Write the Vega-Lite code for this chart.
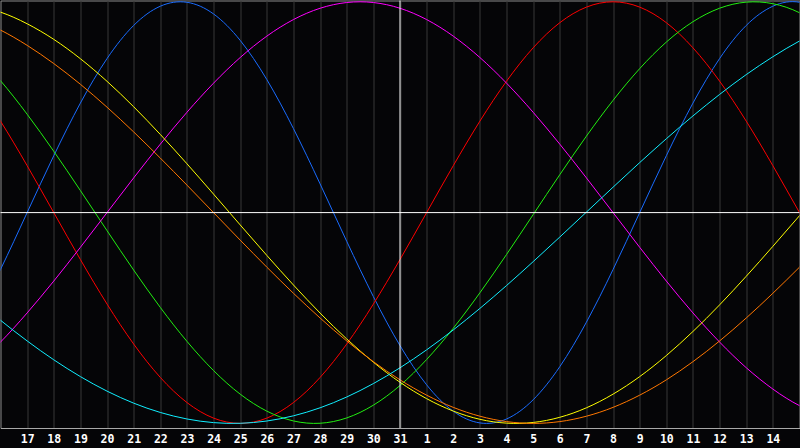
{
  "$schema": "https://vega.github.io/schema/vega-lite/v6.json",
  "width": 799,
  "height": 427.5,
  "autosize": "none",
  "padding": {"left": 0.5, "top": 0.5, "right": 0.5, "bottom": 20},
  "background": "#050507",
  "config": {
    "view": {"stroke": "#8c8c8c", "strokeWidth": 1},
    "axisX": {
      "title": null,
      "grid": true,
      "gridColor": "#383838",
      "gridWidth": 1,
      "ticks": false,
      "domain": true,
      "domainColor": "#a8a8a8",
      "labelColor": "#ffffff",
      "labelFont": "DejaVu Sans Mono",
      "labelFontWeight": "bold",
      "labelFontSize": 11.5,
      "labelPadding": 5,
      "labelFlush": false,
      "labelOverlap": false
    }
  },
  "layer": [
    {
      "data": {
        "values": [
          {"s":"P","t":15,"v":-0.5196},{"s":"P","t":16,"v":-0.2698},{"s":"P","t":17,"v":0},{"s":"P","t":18,"v":0.2698},{"s":"P","t":19,"v":0.5196},{"s":"P","t":20,"v":0.7308},{"s":"P","t":21,"v":0.8879},{"s":"P","t":22,"v":0.9791},{"s":"P","t":23,"v":0.9977},{"s":"P","t":24,"v":0.9423},{"s":"P","t":25,"v":0.817},{"s":"P","t":26,"v":0.631},{"s":"P","t":27,"v":0.3984},{"s":"P","t":28,"v":0.1362},{"s":"P","t":29,"v":-0.1362},{"s":"P","t":30,"v":-0.3984},{"s":"P","t":31,"v":-0.631},{"s":"P","t":32,"v":-0.817},{"s":"P","t":33,"v":-0.9423},{"s":"P","t":34,"v":-0.9977},{"s":"P","t":35,"v":-0.9791},{"s":"P","t":36,"v":-0.8879},{"s":"P","t":37,"v":-0.7308},{"s":"P","t":38,"v":-0.5196},{"s":"P","t":39,"v":-0.2698},{"s":"P","t":40,"v":0},{"s":"P","t":41,"v":0.2698},{"s":"P","t":42,"v":0.5196},{"s":"P","t":43,"v":0.7308},{"s":"P","t":44,"v":0.8879},{"s":"P","t":45,"v":0.9791},{"s":"P","t":46,"v":0.9977},{"s":"P","t":47,"v":0.9423},
          {"s":"E","t":15,"v":0.6235},{"s":"E","t":16,"v":0.4339},{"s":"E","t":17,"v":0.2225},{"s":"E","t":18,"v":0},{"s":"E","t":19,"v":-0.2225},{"s":"E","t":20,"v":-0.4339},{"s":"E","t":21,"v":-0.6235},{"s":"E","t":22,"v":-0.7818},{"s":"E","t":23,"v":-0.901},{"s":"E","t":24,"v":-0.9749},{"s":"E","t":25,"v":-1},{"s":"E","t":26,"v":-0.9749},{"s":"E","t":27,"v":-0.901},{"s":"E","t":28,"v":-0.7818},{"s":"E","t":29,"v":-0.6235},{"s":"E","t":30,"v":-0.4339},{"s":"E","t":31,"v":-0.2225},{"s":"E","t":32,"v":0},{"s":"E","t":33,"v":0.2225},{"s":"E","t":34,"v":0.4339},{"s":"E","t":35,"v":0.6235},{"s":"E","t":36,"v":0.7818},{"s":"E","t":37,"v":0.901},{"s":"E","t":38,"v":0.9749},{"s":"E","t":39,"v":1},{"s":"E","t":40,"v":0.9749},{"s":"E","t":41,"v":0.901},{"s":"E","t":42,"v":0.7818},{"s":"E","t":43,"v":0.6235},{"s":"E","t":44,"v":0.4339},{"s":"E","t":45,"v":0.2225},{"s":"E","t":46,"v":0},{"s":"E","t":47,"v":-0.2225},
          {"s":"I","t":15,"v":0.7619},{"s":"I","t":16,"v":0.6256},{"s":"I","t":17,"v":0.4666},{"s":"I","t":18,"v":0.2909},{"s":"I","t":19,"v":0.1045},{"s":"I","t":20,"v":-0.0856},{"s":"I","t":21,"v":-0.2726},{"s":"I","t":22,"v":-0.4498},{"s":"I","t":23,"v":-0.6107},{"s":"I","t":24,"v":-0.7494},{"s":"I","t":25,"v":-0.8613},{"s":"I","t":26,"v":-0.9418},{"s":"I","t":27,"v":-0.9884},{"s":"I","t":28,"v":-0.9993},{"s":"I","t":29,"v":-0.974},{"s":"I","t":30,"v":-0.9135},{"s":"I","t":31,"v":-0.8201},{"s":"I","t":32,"v":-0.6969},{"s":"I","t":33,"v":-0.5486},{"s":"I","t":34,"v":-0.3804},{"s":"I","t":35,"v":-0.1986},{"s":"I","t":36,"v":-0.0095},{"s":"I","t":37,"v":0.1799},{"s":"I","t":38,"v":0.3628},{"s":"I","t":39,"v":0.5326},{"s":"I","t":40,"v":0.6831},{"s":"I","t":41,"v":0.809},{"s":"I","t":42,"v":0.9056},{"s":"I","t":43,"v":0.9696},{"s":"I","t":44,"v":0.9984},{"s":"I","t":45,"v":0.9911},{"s":"I","t":46,"v":0.9481},{"s":"I","t":47,"v":0.8707},
          {"s":"N","t":15,"v":-0.7357},{"s":"N","t":16,"v":-0.6142},{"s":"N","t":17,"v":-0.4759},{"s":"N","t":18,"v":-0.3247},{"s":"N","t":19,"v":-0.1646},{"s":"N","t":20,"v":0},{"s":"N","t":21,"v":0.1646},{"s":"N","t":22,"v":0.3247},{"s":"N","t":23,"v":0.4759},{"s":"N","t":24,"v":0.6142},{"s":"N","t":25,"v":0.7357},{"s":"N","t":26,"v":0.8372},{"s":"N","t":27,"v":0.9158},{"s":"N","t":28,"v":0.9694},{"s":"N","t":29,"v":0.9966},{"s":"N","t":30,"v":0.9966},{"s":"N","t":31,"v":0.9694},{"s":"N","t":32,"v":0.9158},{"s":"N","t":33,"v":0.8372},{"s":"N","t":34,"v":0.7357},{"s":"N","t":35,"v":0.6142},{"s":"N","t":36,"v":0.4759},{"s":"N","t":37,"v":0.3247},{"s":"N","t":38,"v":0.1646},{"s":"N","t":39,"v":0},{"s":"N","t":40,"v":-0.1646},{"s":"N","t":41,"v":-0.3247},{"s":"N","t":42,"v":-0.4759},{"s":"N","t":43,"v":-0.6142},{"s":"N","t":44,"v":-0.7357},{"s":"N","t":45,"v":-0.8372},{"s":"N","t":46,"v":-0.9158},{"s":"N","t":47,"v":-0.9694},
          {"s":"A","t":15,"v":0.9858},{"s":"A","t":16,"v":0.9511},{"s":"A","t":17,"v":0.8959},{"s":"A","t":18,"v":0.8219},{"s":"A","t":19,"v":0.73},{"s":"A","t":20,"v":0.6227},{"s":"A","t":21,"v":0.5021},{"s":"A","t":22,"v":0.3708},{"s":"A","t":23,"v":0.2317},{"s":"A","t":24,"v":0.0876},{"s":"A","t":25,"v":-0.0584},{"s":"A","t":26,"v":-0.2031},{"s":"A","t":27,"v":-0.3435},{"s":"A","t":28,"v":-0.4766},{"s":"A","t":29,"v":-0.5995},{"s":"A","t":30,"v":-0.7096},{"s":"A","t":31,"v":-0.8048},{"s":"A","t":32,"v":-0.8826},{"s":"A","t":33,"v":-0.9415},{"s":"A","t":34,"v":-0.9806},{"s":"A","t":35,"v":-0.9987},{"s":"A","t":36,"v":-0.9955},{"s":"A","t":37,"v":-0.971},{"s":"A","t":38,"v":-0.926},{"s":"A","t":39,"v":-0.8611},{"s":"A","t":40,"v":-0.778},{"s":"A","t":41,"v":-0.6781},{"s":"A","t":42,"v":-0.5639},{"s":"A","t":43,"v":-0.4377},{"s":"A","t":44,"v":-0.302},{"s":"A","t":45,"v":-0.16},{"s":"A","t":46,"v":-0.0146},{"s":"A","t":47,"v":0.1311},
          {"s":"W","t":15,"v":0.9239},{"s":"W","t":16,"v":0.866},{"s":"W","t":17,"v":0.7934},{"s":"W","t":18,"v":0.7071},{"s":"W","t":19,"v":0.6088},{"s":"W","t":20,"v":0.5},{"s":"W","t":21,"v":0.3827},{"s":"W","t":22,"v":0.2588},{"s":"W","t":23,"v":0.1305},{"s":"W","t":24,"v":0},{"s":"W","t":25,"v":-0.1305},{"s":"W","t":26,"v":-0.2588},{"s":"W","t":27,"v":-0.3827},{"s":"W","t":28,"v":-0.5},{"s":"W","t":29,"v":-0.6088},{"s":"W","t":30,"v":-0.7071},{"s":"W","t":31,"v":-0.7934},{"s":"W","t":32,"v":-0.866},{"s":"W","t":33,"v":-0.9239},{"s":"W","t":34,"v":-0.9659},{"s":"W","t":35,"v":-0.9914},{"s":"W","t":36,"v":-1},{"s":"W","t":37,"v":-0.9914},{"s":"W","t":38,"v":-0.9659},{"s":"W","t":39,"v":-0.9239},{"s":"W","t":40,"v":-0.866},{"s":"W","t":41,"v":-0.7934},{"s":"W","t":42,"v":-0.7071},{"s":"W","t":43,"v":-0.6088},{"s":"W","t":44,"v":-0.5},{"s":"W","t":45,"v":-0.3827},{"s":"W","t":46,"v":-0.2588},{"s":"W","t":47,"v":-0.1305},
          {"s":"S","t":15,"v":-0.4053},{"s":"S","t":16,"v":-0.5106},{"s":"S","t":17,"v":-0.6087},{"s":"S","t":18,"v":-0.6983},{"s":"S","t":19,"v":-0.778},{"s":"S","t":20,"v":-0.847},{"s":"S","t":21,"v":-0.9039},{"s":"S","t":22,"v":-0.9481},{"s":"S","t":23,"v":-0.979},{"s":"S","t":24,"v":-0.9963},{"s":"S","t":25,"v":-0.9995},{"s":"S","t":26,"v":-0.9887},{"s":"S","t":27,"v":-0.964},{"s":"S","t":28,"v":-0.9259},{"s":"S","t":29,"v":-0.8747},{"s":"S","t":30,"v":-0.8111},{"s":"S","t":31,"v":-0.7362},{"s":"S","t":32,"v":-0.651},{"s":"S","t":33,"v":-0.5567},{"s":"S","t":34,"v":-0.4545},{"s":"S","t":35,"v":-0.346},{"s":"S","t":36,"v":-0.2326},{"s":"S","t":37,"v":-0.1159},{"s":"S","t":38,"v":0.0024},{"s":"S","t":39,"v":0.1206},{"s":"S","t":40,"v":0.2372},{"s":"S","t":41,"v":0.3504},{"s":"S","t":42,"v":0.4587},{"s":"S","t":43,"v":0.5606},{"s":"S","t":44,"v":0.6547},{"s":"S","t":45,"v":0.7394},{"s":"S","t":46,"v":0.8141},{"s":"S","t":47,"v":0.877}
        ]
      },
      "mark": {"type": "line", "interpolate": "natural", "strokeWidth": 1, "clip": true},
      "encoding": {
        "x": {
          "field": "t",
          "type": "quantitative",
          "scale": {"domain": [16, 46], "nice": false, "zero": false},
          "axis": {
            "values": [17,18,19,20,21,22,23,24,25,26,27,28,29,30,31,32,33,34,35,36,37,38,39,40,41,42,43,44,45],
            "labelExpr": "datum.value > 31 ? datum.value - 31 : datum.value"
          }
        },
        "y": {
          "field": "v",
          "type": "quantitative",
          "scale": {"domain": [-1.0218, 1.0062], "nice": false, "zero": false},
          "axis": null
        },
        "color": {
          "field": "s",
          "type": "nominal",
          "scale": {
            "domain": ["P", "E", "I", "N", "A", "W", "S"],
            "range": ["#1a6cff", "#ff0000", "#22ee11", "#ff00ff", "#ffff00", "#ff7700", "#11eeff"]
          },
          "legend": null
        }
      }
    },
    {
      "data": {"values": [{"t": 31}]},
      "mark": {"type": "rule", "color": "#ffffff", "strokeWidth": 1},
      "encoding": {
        "x": {
          "field": "t",
          "type": "quantitative",
          "axis": {
            "values": [17,18,19,20,21,22,23,24,25,26,27,28,29,30,31,32,33,34,35,36,37,38,39,40,41,42,43,44,45],
            "labelExpr": "datum.value > 31 ? datum.value - 31 : datum.value"
          }
        }
      }
    },
    {
      "data": {"values": [{"v": 0}]},
      "mark": {"type": "rule", "color": "#ffffff", "strokeWidth": 1},
      "encoding": {"y": {"field": "v", "type": "quantitative"}}
    }
  ]
}
